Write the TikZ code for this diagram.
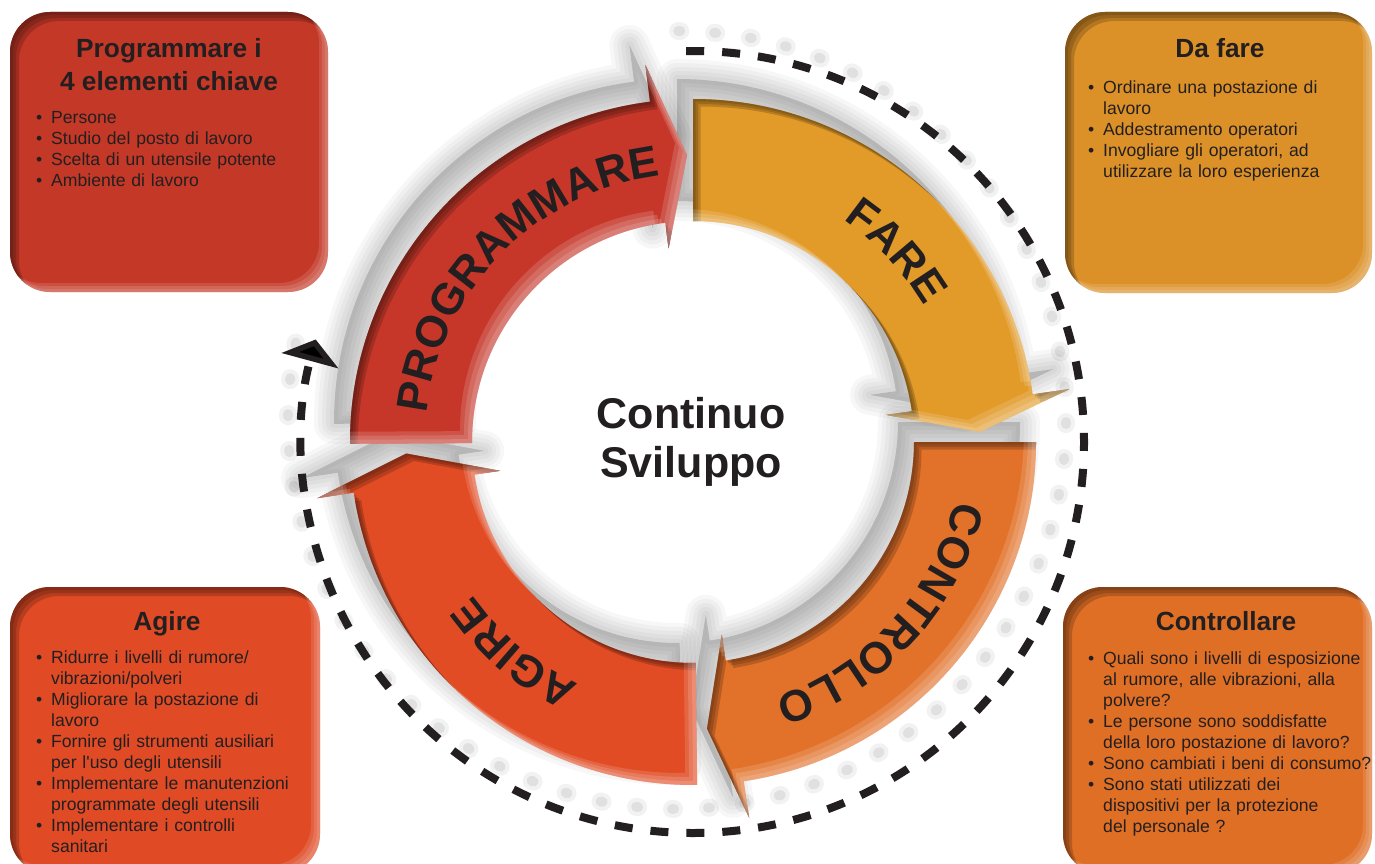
\documentclass[tikz,border=0pt]{standalone}
\usepackage{fontspec}
\setmainfont{Liberation Sans}
\usetikzlibrary{calc,decorations.text,arrows.meta}
\definecolor{cProg}{HTML}{C6372A}
\definecolor{cFare}{HTML}{E29A28}
\definecolor{cCont}{HTML}{E2712A}
\definecolor{cAgi}{HTML}{E14C25}
\definecolor{bProg}{HTML}{C43828}
\definecolor{bFare}{HTML}{DC9128}
\definecolor{bCont}{HTML}{E06F26}
\definecolor{bAgi}{HTML}{E04B26}
\definecolor{ink}{HTML}{231F20}

\def\Rout{343}\def\Rin{221}\def\Rmid{287}\def\Hout{380}\def\Hin{195}

% ring arrow outline: start angle, head base angle, tip angle, dx, dy
\newcommand\ringarrow[5]{($(#1:\Rout)+(#4,#5)$) arc[start angle=#1,end angle=#2,radius=\Rout] -- ($(#2:\Hout)+(#4,#5)$) -- ($(#3:\Rmid)+(#4,#5)$) -- ($(#2:\Hin)+(#4,#5)$) -- ($(#2:\Rin)+(#4,#5)$) arc[start angle=#2,end angle=#1,radius=\Rin] -- cycle}

\newcommand\bevelarrow[4]{%
 \begin{scope}
 \clip \ringarrow{#1}{#2}{#3}{0}{0};
 \foreach \sh in {2.5,5,7.5}{\fill[#4, opacity=0.3, even odd rule] (-1000,1000) rectangle (1000,-1000) \ringarrow{#1}{#2}{#3}{\sh}{-\sh};}
 \foreach \sh in {4,8,12}{\fill[white, opacity=0.14, even odd rule] (-1000,1000) rectangle (1000,-1000) \ringarrow{#1}{#2}{#3}{-\sh}{\sh};}
 \end{scope}}

% box: x1 y1 (top-left) x2 y2 (bottom-right) fill dark
\newcommand\fancybox[6]{%
 \fill[#5, rounded corners=40pt] (#1,#2) rectangle (#3,#4);
 \begin{scope}
  \clip[rounded corners=40pt] (#1,#2) rectangle (#3,#4);
  \foreach \sh in {3,6,9}{\fill[#6, opacity=0.3, even odd rule, rounded corners=40pt] (-100,100) rectangle (1500,-1000) ({#1+\sh},{#2-\sh}) rectangle ({#3+\sh},{#4-\sh});}
  \foreach \sh in {3,6,9}{\fill[white, opacity=0.12, even odd rule, rounded corners=40pt] (-100,100) rectangle (1500,-1000) ({#1-\sh},{#2+\sh}) rectangle ({#3-\sh},{#4+\sh});}
 \end{scope}}

\newcommand\itm{\par\hangindent=15pt\hangafter=1\noindent\makebox[15pt][l]{•}\strut}

\tikzset{
 boxtitle/.style={font=\fontsize{26.3}{30}\selectfont\bfseries, text=ink, inner sep=0pt, anchor=base},
 boxbody/.style={font=\fontsize{17.6}{21}\selectfont, text=ink, inner sep=0pt, anchor=north west, text width=300pt},
 centerlabel/.style={font=\fontsize{43}{50}\selectfont\bfseries, text=ink, inner sep=0pt, anchor=base},
 ringlabel/.style={decorate, decoration={text along path, text align=center, text color=ink, text={|\fontsize{44}{44}\selectfont\bfseries|#1}}},
 dashring/.style={line width=8pt, draw=ink, dash pattern=on 18pt off 18pt},
}

\begin{document}
\begin{tikzpicture}[x=1pt,y=1pt]
\useasboundingbox (0,0) rectangle (1375,-864);
\fill[white] (0,0) rectangle (1375,-864);

\begin{scope}[shift={(693,-442)}]
 % shadow of dashed ring
 \draw[black, opacity=0.05, line width=18pt, line cap=round, dash pattern=on 2pt off 34pt, dash phase=-8pt] ($(91:389)+(-16,22)$) arc[start angle=91,end angle=-195,radius=389];
 \draw[black, opacity=0.07, line width=10pt, line cap=round, dash pattern=on 2pt off 34pt, dash phase=-8pt] ($(91:389)+(-16,22)$) arc[start angle=91,end angle=-195,radius=389];
 % shadows of ring arrows
 \foreach \lw in {40,32,24,16,8}{
  \foreach \pa/\pb/\pc in {180.3/97.2/91.2, 90/8/2, 0/-81.5/-87.2, -89.3/-171.5/-177.7}{
   \path[fill=black, draw=black, opacity=0.032, line width=\lw pt, line join=round] \ringarrow{\pa}{\pb}{\pc}{-16}{20};
  }
 }
 % ring arrows
 \fill[cProg] \ringarrow{180.3}{97.2}{91.2}{0}{0};
 \fill[cFare] \ringarrow{90}{8}{2}{0}{0};
 \fill[cCont] \ringarrow{0}{-81.5}{-87.2}{0}{0};
 \fill[cAgi] \ringarrow{-89.3}{-171.5}{-177.7}{0}{0};
 \bevelarrow{180.3}{97.2}{91.2}{cProg!40!black}
 \bevelarrow{90}{8}{2}{cFare!40!black}
 \bevelarrow{0}{-81.5}{-87.2}{cCont!40!black}
 \bevelarrow{-89.3}{-171.5}{-177.7}{cAgi!40!black}
 % ring labels
 \path[ringlabel=PROGRAMMARE] (180.4:268) arc[start angle=180.4,end angle=90.4,radius=268];
 \path[ringlabel=FARE] (88.2:268) arc[start angle=88.2,end angle=-1.8,radius=268];
 \path[ringlabel=CONTROLLO] (2.6:268) arc[start angle=2.6,end angle=-87.4,radius=268];
 \path[ringlabel=AGIRE] (-85.2:268) arc[start angle=-85.2,end angle=-175.2,radius=268];
 % dashed cycle ring
 \draw[dashring, -{Triangle[width=58pt,length=22pt]}] (91:391) arc[start angle=91,end angle=-195.2,radius=391];
\end{scope}

\node[centerlabel] (c1) at (691,-428) {Continuo};
\node[centerlabel] (c2) at (691,-477) {Sviluppo};

% boxes
\fancybox{10}{-12}{328}{-292}{bProg}{bProg!40!black}
\fancybox{1065}{-12}{1372}{-293}{bFare}{bFare!40!black}
\fancybox{10}{-587}{320}{-874}{bAgi}{bAgi!40!black}
\fancybox{1063}{-587}{1372}{-874}{bCont}{bCont!40!black}

\node[boxtitle] (t1a) at (169,-58) {Programmare i};
\node[boxtitle] (t1b) at (169,-91) {4 elementi chiave};
\node[boxtitle] (t2) at (1220,-58) {Da fare};
\node[boxtitle] (t3) at (167,-630) {Agire};
\node[boxtitle] (t4) at (1226,-630) {Controllare};

\node[boxbody] (b1) at (36,-102.3) {\itm Persone\itm Studio del posto di lavoro\itm Scelta di un utensile potente\itm Ambiente di lavoro\par};
\node[boxbody] (b2) at (1088,-72.3) {\itm Ordinare una postazione di\newline lavoro\itm Addestramento operatori\itm Invogliare gli operatori, ad\newline utilizzare la loro esperienza\par};
\node[boxbody] (b3) at (36,-642.3) {\itm Ridurre i livelli di rumore/\newline vibrazioni/polveri\itm Migliorare la postazione di\newline lavoro\itm Fornire gli strumenti ausiliari\newline per l\textquotesingle uso degli utensili\itm Implementare le manutenzioni\newline programmate degli utensili\itm Implementare i controlli\newline sanitari\par};
\node[boxbody] (b4) at (1088,-643.3) {\itm Quali sono i livelli di esposizione\newline al rumore, alle vibrazioni, alla\newline polvere?\itm Le persone sono soddisfatte\newline della loro postazione di lavoro?\itm Sono cambiati i beni di consumo?\itm Sono stati utilizzati dei\newline dispositivi per la protezione\newline del personale ?\par};
\end{tikzpicture}
\end{document}
